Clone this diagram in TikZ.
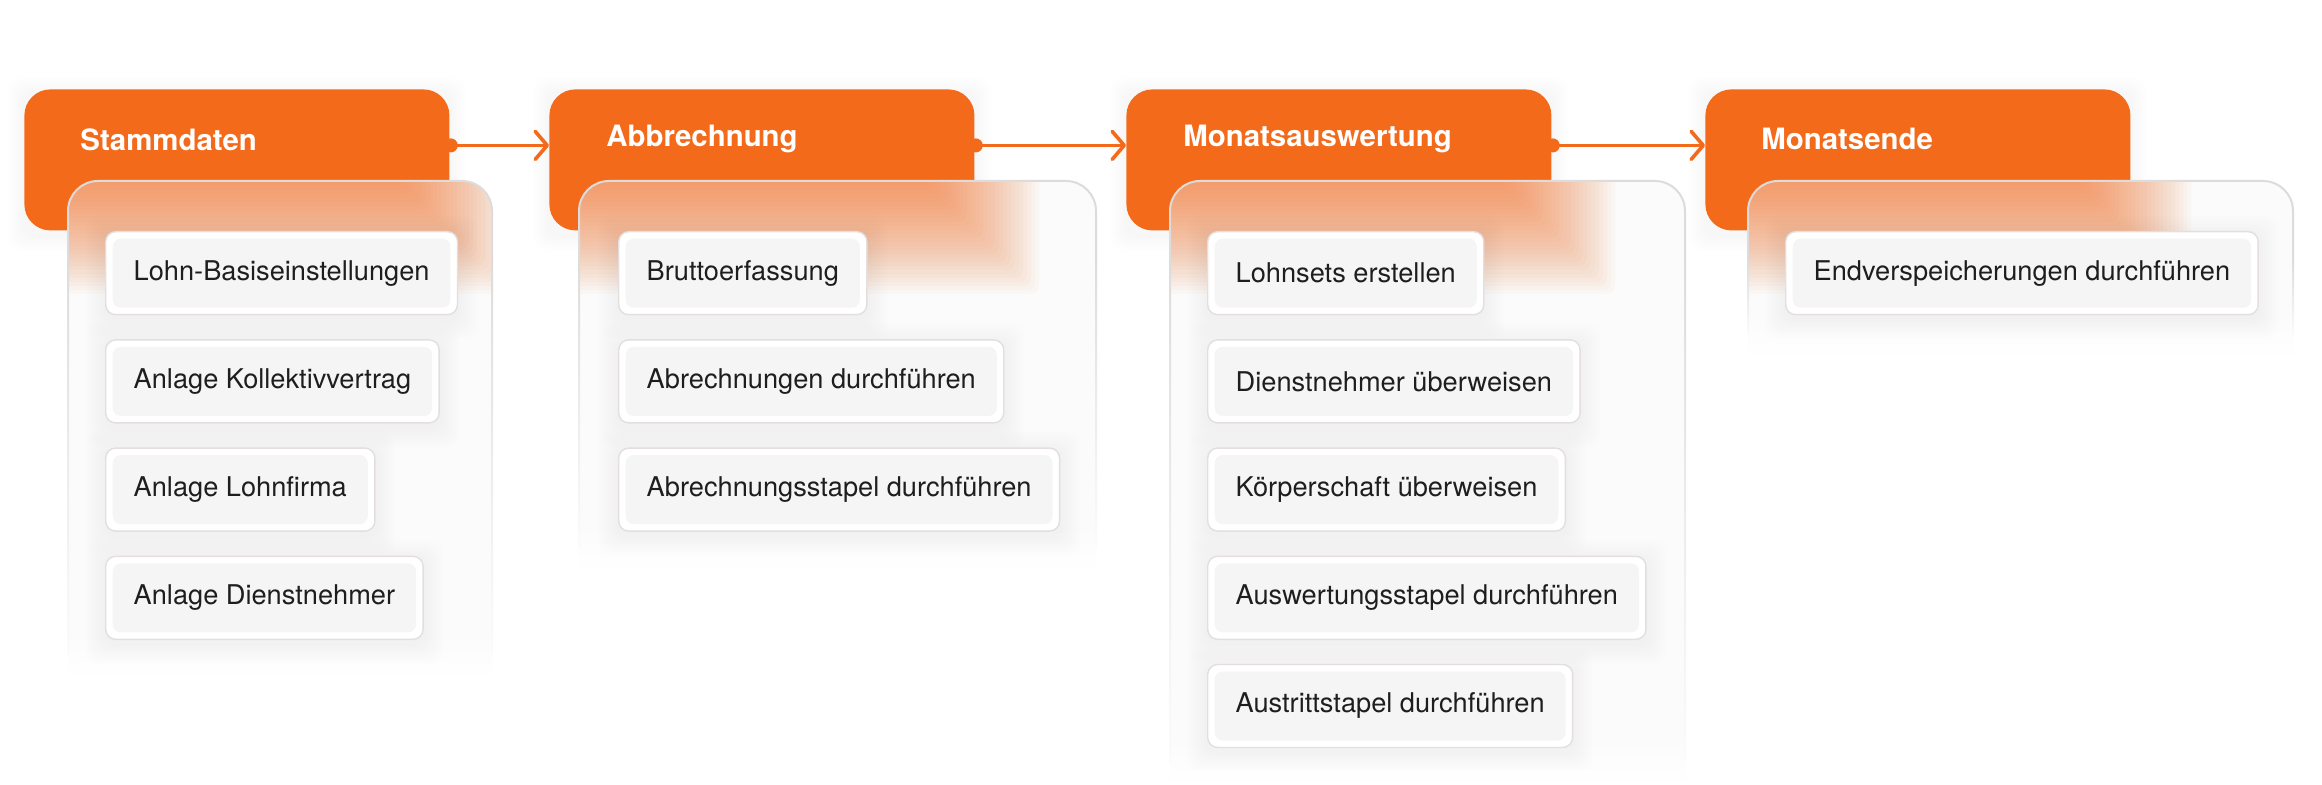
\documentclass[tikz,border=0pt]{standalone}
\usepackage{fontspec}
\setmainfont{TeX Gyre Heros}
\usetikzlibrary{positioning,arrows.meta}
\definecolor{myorange}{HTML}{F36A1B}
\definecolor{mygray}{HTML}{DCDCDC}
\definecolor{mypanel}{HTML}{FBFBFB}
\definecolor{mytask}{HTML}{F5F5F5}
\definecolor{mytaskline}{HTML}{E4DEDE}
\definecolor{mytext}{HTML}{1E1E1E}
\pgfdeclarelayer{halo}
\pgfdeclarelayer{back}
\pgfdeclarelayer{shade}
\pgfsetlayers{halo,back,shade,main}
% soft shadow under a list of nodes: #1 names, #2 steps, #3 opacity
\newcommand{\softshadow}[3]{\foreach \n in {#1}{\foreach \s in {1,...,#2}{%
  \fill[black, opacity=#3, rounded corners=6pt] ([shift={(-\s pt,{\s pt-2pt})}]\n.north west) rectangle ([shift={(\s pt,{-\s pt-2pt})}]\n.south east);}}}
% panel under a stage: #1 left, #2 right, #3 bottom of last task, #4/#5 left/right of the stage
\newcommand{\stagepanel}[5]{%
  \fill[mypanel, rounded corners=15pt] (#1,181) rectangle (#2,{#3+30});
  \shade[top color=mypanel, bottom color=white] (#1,#3) rectangle (#2,{#3+45});
  \begin{scope}
  \clip[rounded corners=15pt] (#1,181) rectangle (#2,{#3+45});
  \foreach \o in {-60,-56,...,64}
    \fill[myorange, opacity=0.03, rounded corners=4pt] ({#4-(\o)},{89-(\o)}) rectangle ({#5+\o},{230+\o});
  \end{scope}
  \draw[mygray, line width=1pt, rounded corners=15pt] (#1,260) -- (#1,181) -- (#2,181) -- (#2,260);
  \shade[top color=mygray, bottom color=mypanel] ({#1-1},260) rectangle ({#1+1},{#3+20});
  \shade[top color=mygray, bottom color=mypanel] ({#2-1},260) rectangle ({#2+1},{#3+20});}

\begin{document}
\begin{tikzpicture}[x=0.5pt, y=-0.5pt,
  stage/.style={anchor=north west, fill=myorange, rounded corners=13pt, minimum width=212.5pt, minimum height=70.5pt, inner sep=0pt},
  stagetitle/.style={anchor=west, inner sep=0pt, text=white, font=\fontsize{14.7pt}{17pt}\selectfont\bfseries},
  task/.style={draw=mytaskline, line width=0.7pt, fill=white, rounded corners=5pt, minimum height=41.5pt,
    inner xsep=14pt, inner ysep=0pt, text=mytext, font=\fontsize{13.6pt}{16pt}\selectfont,
    path picture={\fill[mytask, rounded corners=4pt] ([shift={(3.5pt,-3.5pt)}]path picture bounding box.north west) rectangle ([shift={(-3.5pt,3.5pt)}]path picture bounding box.south east);}},
  flow/.style={draw=myorange, line width=1.8pt, -{Straight Barb[length=6pt, width=14pt, round]}}]
\begin{pgfonlayer}{halo}
\fill[white] (0,0) rectangle (2322,785);
\end{pgfonlayer}
\useasboundingbox (0,0) rectangle (2322,785);

% Stammdaten
\begin{pgfonlayer}{back}
\node[stage] (stamm) at (24,89) {};
\stagepanel{68}{492}{634}{24}{449}
\end{pgfonlayer}
\node[stagetitle] (stammtitle) at ([xshift=28pt, yshift=10.25pt]stamm.west) {Stammdaten};
\node[task, anchor=north west] (s1) at (105,231) {Lohn-Basiseinstellungen};
\node[task, below right=11.9pt and 0pt of s1.south west] (s2) {Anlage Kollektivvertrag};
\node[task, below right=11.9pt and 0pt of s2.south west] (s3) {Anlage Lohnfirma};
\node[task, below right=11.9pt and 0pt of s3.south west] (s4) {Anlage Dienstnehmer};

% Abbrechnung
\begin{pgfonlayer}{back}
\node[stage] (abr) at (549,89) {};
\stagepanel{579}{1096}{527}{549}{975}
\end{pgfonlayer}
\node[stagetitle] (abrtitle) at ([xshift=28.5pt, yshift=10.25pt]abr.west) {Abbrechnung};
\node[task, anchor=north west] (a1) at (618,231) {Bruttoerfassung};
\node[task, below right=11.9pt and 0pt of a1.south west] (a2) {Abrechnungen durchführen};
\node[task, below right=11.9pt and 0pt of a2.south west] (a3) {Abrechnungsstapel durchführen};

% Monatsauswertung
\begin{pgfonlayer}{back}
\node[stage] (mon) at (1126,89) {};
\stagepanel{1170}{1685}{741}{1126}{1551}
\end{pgfonlayer}
\node[stagetitle] (montitle) at ([xshift=28.5pt, yshift=10.25pt]mon.west) {Monatsauswertung};
\node[task, anchor=north west] (m1) at (1207,231) {Lohnsets erstellen};
\node[task, below right=11.9pt and 0pt of m1.south west] (m2) {Dienstnehmer überweisen};
\node[task, below right=11.9pt and 0pt of m2.south west] (m3) {Körperschaft überweisen};
\node[task, below right=11.9pt and 0pt of m3.south west] (m4) {Auswertungsstapel durchführen};
\node[task, below right=11.9pt and 0pt of m4.south west] (m5) {Austrittstapel durchführen};

% Monatsende
\begin{pgfonlayer}{back}
\node[stage] (ende) at (1705,89) {};
\stagepanel{1748}{2293}{315}{1705}{2127}
\end{pgfonlayer}
\node[stagetitle] (endetitle) at ([xshift=28pt, yshift=10.25pt]ende.west) {Monatsende};
\node[task, anchor=north west] (e1) at (1785,231) {Endverspeicherungen durchführen};

% shadows
\begin{pgfonlayer}{halo}
\softshadow{stamm,abr,mon,ende}{8}{0.004}
\end{pgfonlayer}
\begin{pgfonlayer}{shade}
\softshadow{s1,s2,s3,s4,a1,a2,a3,m1,m2,m3,m4,m5,e1}{10}{0.005}
\end{pgfonlayer}

% flow between the stages
\fill[myorange] ([xshift=0.5pt, yshift=7.25pt]stamm.east) circle (3.5pt);
\fill[myorange] ([xshift=0.5pt, yshift=7.25pt]abr.east) circle (3.5pt);
\fill[myorange] ([xshift=0.5pt, yshift=7.25pt]mon.east) circle (3.5pt);
\draw[flow] ([yshift=7.25pt]stamm.east) -- ([yshift=7.25pt]abr.west);
\draw[flow] ([yshift=7.25pt]abr.east) -- ([yshift=7.25pt]mon.west);
\draw[flow] ([yshift=7.25pt]mon.east) -- ([yshift=7.25pt]ende.west);
\end{tikzpicture}
\end{document}
